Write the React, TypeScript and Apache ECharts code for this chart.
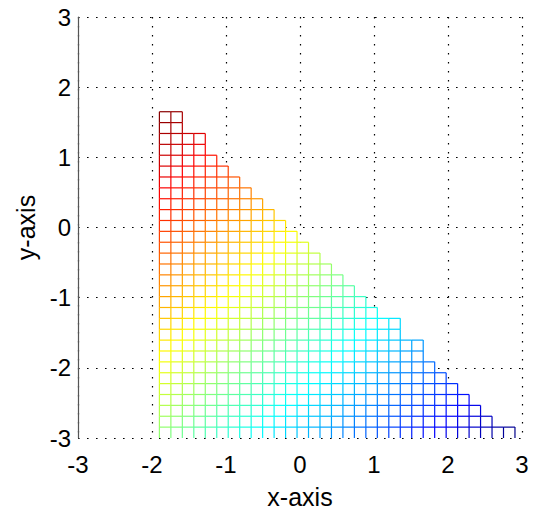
import { useEffect, useRef } from 'react';
import * as echarts from 'echarts';

// Axis tick values
const xTicks = [-3, -2, -1, 0, 1, 2, 3];
const yTicks = [-3, -2, -1, 0, 1, 2, 3];

// Mesh grid lines
const xEdges = [
  -1.9, -1.745, -1.59, -1.435, -1.28, -1.125, -0.97, -0.815, -0.66, -0.505,
  -0.35, -0.195, -0.04, 0.115, 0.27, 0.425, 0.58, 0.735, 0.89, 1.045,
  1.2, 1.355, 1.51, 1.665, 1.82, 1.975, 2.13, 2.285, 2.44, 2.595,
  2.75, 2.905,
];
const yEdges = [
  -3, -2.845, -2.69, -2.535, -2.38, -2.225, -2.07, -1.915, -1.76, -1.605,
  -1.45, -1.295, -1.14, -0.985, -0.83, -0.675, -0.52, -0.365, -0.21, -0.055,
  0.1, 0.255, 0.41, 0.565, 0.72, 0.875, 1.03, 1.185, 1.34, 1.495, 1.65,
];
// Number of mesh rows in each column, left to right
const colRows = [
  30, 30, 28, 28, 26, 25, 24, 23, 22, 21, 20, 19, 18, 17, 16, 15,
  14, 13, 12, 11, 11, 9, 9, 7, 6, 5, 4, 3, 2, 1, 1,
];
// jet colormap stops
const jetColors = [
  '#000080', '#0000ff', '#0080ff', '#00ffff', '#80ff80',
  '#ffff00', '#ff8000', '#ff0000', '#800000',
];

function buildCells() {
  return colRows.map((h, i) => [xEdges[i], xEdges[i + 1], yEdges[0], yEdges[h]]);
}

function buildEdges() {
  const seen = new Set<string>();
  const out: number[][] = [];
  const add = (i1: number, j1: number, i2: number, j2: number) => {
    const k = `${i1},${j1},${i2},${j2}`;
    if (seen.has(k)) return;
    seen.add(k);
    const xa = xEdges[i1], ya = yEdges[j1], xb = xEdges[i2], yb = yEdges[j2];
    const z = ((ya - xa) + (yb - xb)) / 2;
    out.push([xa, ya, xb, yb, z]);
  };
  colRows.forEach((h, i) => {
    for (let j = 0; j < h; j++) {
      add(i, j, i, j + 1);
      add(i + 1, j, i + 1, j + 1);
      add(i, j + 1, i + 1, j + 1);
      if (j > 0) add(i, j, i + 1, j);
    }
  });
  return out;
}

export default function App() {
  const ref = useRef<HTMLDivElement>(null);
  useEffect(() => {
    if (!ref.current) return;
    const chart = echarts.init(ref.current, null, { renderer: 'svg' });
    const cells = buildCells();
    const edges = buildEdges();
    let zMin = Infinity, zMax = -Infinity;
    colRows.forEach((h, i) => {
      for (let j = 0; j <= h; j++) {
        for (const ii of [i, i + 1]) {
          const z = yEdges[j] - xEdges[ii];
          zMin = Math.min(zMin, z);
          zMax = Math.max(zMax, z);
        }
      }
    });
    const font = '"Liberation Sans", Arial, Helvetica, sans-serif';
    const dotted = { type: [1.6, 7.4] as any, color: '#000', width: 1.2 };
    chart.setOption({
      animation: false,
      grid: { left: 78, right: 12, top: 17, bottom: 76 },
      xAxis: {
        type: 'value',
        min: xTicks[0],
        max: xTicks[xTicks.length - 1],
        interval: 1,
        name: 'x-axis',
        nameLocation: 'middle',
        nameGap: 46,
        nameTextStyle: { fontFamily: font, fontSize: 25, color: '#000' },
        axisLine: { show: false },
        axisTick: { show: false },
        axisLabel: { fontFamily: font, fontSize: 24, color: '#000', margin: 14 },
        splitLine: { show: true, lineStyle: dotted },
      },
      yAxis: {
        type: 'value',
        min: yTicks[0],
        max: yTicks[yTicks.length - 1],
        interval: 1,
        name: 'y-axis',
        nameLocation: 'middle',
        nameGap: 40,
        nameTextStyle: { fontFamily: font, fontSize: 25, color: '#000' },
        axisLine: { show: true, onZero: false, lineStyle: { color: '#555', width: 1.2 } },
        axisTick: { show: false },
        axisLabel: { fontFamily: font, fontSize: 24, color: '#000', margin: 7 },
        splitLine: { show: true, lineStyle: dotted },
      },
      visualMap: {
        type: 'continuous',
        show: false,
        seriesIndex: 1,
        dimension: 4,
        min: zMin,
        max: zMax,
        inRange: { color: jetColors },
      },
      series: [
        {
          type: 'custom',
          silent: true,
          clip: true,
          encode: { x: [0, 1], y: [2, 3] },
          data: cells,
          renderItem: (params: any, api: any) => {
            const p0 = api.coord([api.value(0), api.value(3)]);
            const p1 = api.coord([api.value(1), api.value(2)]);
            return {
              type: 'rect',
              shape: { x: p0[0], y: p0[1], width: p1[0] - p0[0], height: p1[1] - p0[1] - 2 },
              style: { fill: '#fff', stroke: null },
            };
          },
        },
        {
          type: 'custom',
          silent: true,
          clip: true,
          encode: { x: [0, 2], y: [1, 3] },
          data: edges,
          renderItem: (params: any, api: any) => {
            const a = api.coord([api.value(0), api.value(1)]);
            const b = api.coord([api.value(2), api.value(3)]);
            return {
              type: 'line',
              shape: { x1: a[0], y1: a[1], x2: b[0], y2: b[1] },
              style: { stroke: api.visual('color'), lineWidth: 1.2 },
            };
          },
        },
      ],
    });
    return () => chart.dispose();
  }, []);
  return <div ref={ref} style={{ width: 534, height: 514, position: 'absolute', left: 0, top: 0 }} />;
}
